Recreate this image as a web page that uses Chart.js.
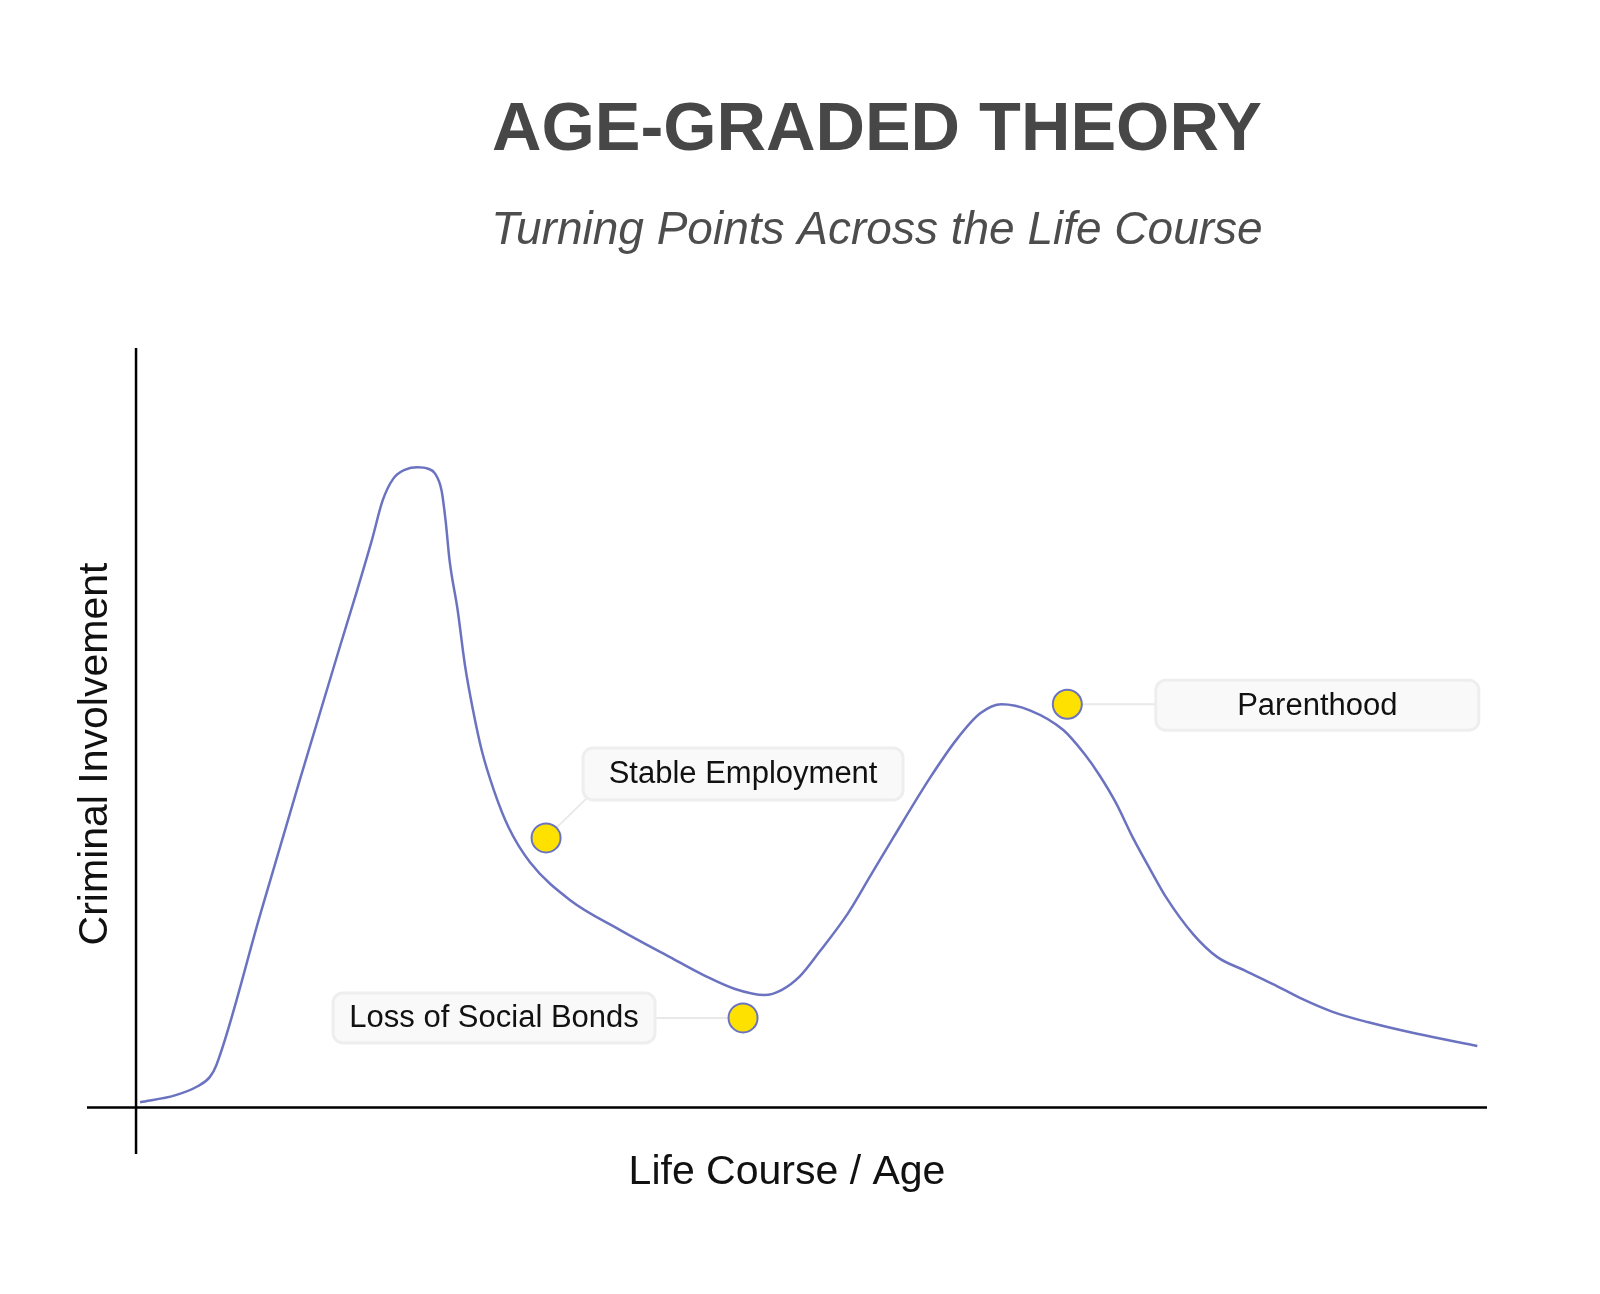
<!DOCTYPE html>
<html>
<head>
<meta charset="utf-8">
<title>Age-Graded Theory</title>
<script src="https://cdn.jsdelivr.net/npm/chart.js@4.4.0/dist/chart.umd.min.js"></script>
<style>
  html, body { margin: 0; padding: 0; background: #fff; }
  #grafico { display: block; }
</style>
</head>
<body>
<canvas id="grafico" width="1600" height="1294"></canvas>
<script>
// Curva de envolvimento criminal ao longo da vida
const lifeCourse = [
  0.3, 2.9, 4.6, 5.5, 6.0, 9.25, 12.2, 15.2, 16.5, 17.6, 18.4, 19.2, 20.1, 21.0, 21.8,
  22.3, 22.8, 23.1, 23.4, 24.0, 24.55, 25.15, 25.8, 26.7, 27.8, 29.4, 32.4, 36.1, 39.85,
  42.5, 44.7, 46.9, 48.2, 49.55, 51.0, 53.1, 54.8, 56.5, 59.25, 61.3, 63.0, 64.6,
  66.7, 69.2, 70.8, 71.9, 73.1, 74.4, 75.7, 76.9, 78.9, 80.7, 82.8, 84.85, 86.9, 89.3,
  91.9, 95.6, 100.1
];
const involvement = [
  0.7, 1.6, 2.8, 4.0, 5.6, 25.3, 43.0, 60.6, 68.1, 74.7, 79.9, 82.8, 84.0, 84.3, 84.1,
  83.5, 81.25, 77.3, 72.0, 65.5, 58.2, 52.3, 47.0, 41.8, 36.9, 32.3, 27.3, 23.4, 19.8,
  17.3, 15.6, 14.8, 15.5, 17.3, 20.5, 25.5, 30.5, 35.5, 43.4, 48.6, 51.9, 53.1,
  52.3, 49.7, 46.5, 43.75, 40.2, 35.5, 31.3, 27.6, 22.8, 19.8, 18.0, 16.25, 14.4, 12.6,
  11.25, 9.7, 8.1
];

// Pontos de virada
const turningPointLabels = ['Stable Employment', 'Loss of Social Bonds', 'Parenthood'];
const turningPointAge = [30.6, 45.3, 69.5];
const turningPointLevel = [35.5, 11.8, 53.1];

const axisTitleX = 'Life Course / Age';
const axisTitleY = 'Criminal Involvement';
const chartTitle = 'AGE-GRADED THEORY';
const chartSubtitle = 'Turning Points Across the Life Course';

// Posicao das caixas em relacao ao ponto (px)
const calloutLayout = [
  { dx: 197, dy: -64, w: 320, h: 52, corner: true },
  { dx: -249, dy: 0, w: 322, h: 50 },
  { dx: 250, dy: 1, w: 323, h: 50 }
];

const corLinha = '#6b73c1';
const fonte = '"Liberation Sans", Arial, Helvetica, sans-serif';

function roundRect(ctx, x, y, w, h, r) {
  ctx.beginPath();
  ctx.moveTo(x + r, y);
  ctx.arcTo(x + w, y, x + w, y + h, r);
  ctx.arcTo(x + w, y + h, x, y + h, r);
  ctx.arcTo(x, y + h, x, y, r);
  ctx.arcTo(x, y, x + w, y, r);
  ctx.closePath();
}

function caixaDoPonto(chart, i) {
  const xs = chart.scales.x;
  const ys = chart.scales.y;
  const px = xs.getPixelForValue(turningPointAge[i]);
  const py = ys.getPixelForValue(turningPointLevel[i]);
  const l = calloutLayout[i];
  const cx = px + l.dx;
  const cy = py + l.dy;
  return { px, py, cx, cy, left: cx - l.w / 2, top: cy - l.h / 2, w: l.w, h: l.h, corner: l.corner };
}

const desenhos = {
  id: 'desenhos',
  beforeDatasetsDraw(chart) {
    const ctx = chart.ctx;
    const area = chart.chartArea;
    const x0 = chart.scales.x.getPixelForValue(0);
    const y0 = chart.scales.y.getPixelForValue(0);

    // eixos cruzados
    ctx.save();
    ctx.strokeStyle = '#000';
    ctx.lineWidth = 2.5;
    ctx.beginPath();
    ctx.moveTo(x0, area.top);
    ctx.lineTo(x0, area.bottom);
    ctx.moveTo(area.left, y0);
    ctx.lineTo(area.right, y0);
    ctx.stroke();

    // linhas de ligacao
    ctx.strokeStyle = '#e9e9e9';
    ctx.lineWidth = 2;
    turningPointLabels.forEach((_, i) => {
      const c = caixaDoPonto(chart, i);
      ctx.beginPath();
      ctx.moveTo(c.px, c.py);
      if (c.corner) {
        ctx.lineTo(c.left + 6, c.top + c.h - 4);
      } else {
        ctx.lineTo(c.cx, c.py);
      }
      ctx.stroke();
    });
    ctx.restore();
  },
  afterDatasetsDraw(chart) {
    const ctx = chart.ctx;
    ctx.save();
    turningPointLabels.forEach((txt, i) => {
      const c = caixaDoPonto(chart, i);
      roundRect(ctx, c.left, c.top, c.w, c.h, 10);
      ctx.fillStyle = '#f9f9f9';
      ctx.fill();
      ctx.strokeStyle = '#eeeeee';
      ctx.lineWidth = 3;
      ctx.stroke();
      ctx.fillStyle = '#111';
      ctx.font = '31px ' + fonte;
      ctx.textAlign = 'center';
      ctx.textBaseline = 'middle';
      ctx.fillText(txt, c.cx, c.cy + 1);
    });
    ctx.restore();
  },
  afterDraw(chart) {
    const ctx = chart.ctx;
    const area = chart.chartArea;
    ctx.save();

    // titulo e subtitulo
    ctx.textAlign = 'center';
    ctx.textBaseline = 'alphabetic';
    ctx.fillStyle = '#474747';
    ctx.font = 'bold 68.5px ' + fonte;
    ctx.fillText(chartTitle, 877, 150);
    ctx.fillStyle = '#4d4d4d';
    ctx.font = 'italic 46px ' + fonte;
    ctx.fillText(chartSubtitle, 877, 244);

    // titulos dos eixos
    ctx.fillStyle = '#111';
    ctx.font = '41px ' + fonte;
    ctx.fillText(axisTitleX, (area.left + area.right) / 2, area.bottom + 30);

    ctx.translate(area.left + 20, (area.top + area.bottom) / 2 + 3);
    ctx.rotate(-Math.PI / 2);
    ctx.fillText(axisTitleY, 0, 0);
    ctx.restore();
  }
};

const ctx = document.getElementById('grafico').getContext('2d');

new Chart(ctx, {
  type: 'scatter',
  data: {
    datasets: [
      {
        label: 'Criminal Involvement',
        data: lifeCourse.map((x, i) => ({ x, y: involvement[i] })),
        showLine: true,
        borderColor: corLinha,
        borderWidth: 2.5,
        cubicInterpolationMode: 'monotone',
        pointRadius: 0,
        fill: false,
        order: 2
      },
      {
        label: 'Turning Points',
        data: turningPointAge.map((x, i) => ({ x, y: turningPointLevel[i] })),
        pointRadius: 14.5,
        pointBackgroundColor: '#ffe100',
        pointBorderColor: corLinha,
        pointBorderWidth: 2,
        order: 1
      }
    ]
  },
  options: {
    responsive: false,
    animation: false,
    layout: {
      padding: { left: 87, right: 113, top: 348, bottom: 140 }
    },
    scales: {
      x: { type: 'linear', display: false, min: -3.66, max: 100.82 },
      y: { type: 'linear', display: false, min: -6.12, max: 100 }
    },
    plugins: {
      legend: { display: false },
      tooltip: { enabled: false }
    }
  },
  plugins: [desenhos]
});
</script>
</body>
</html>
